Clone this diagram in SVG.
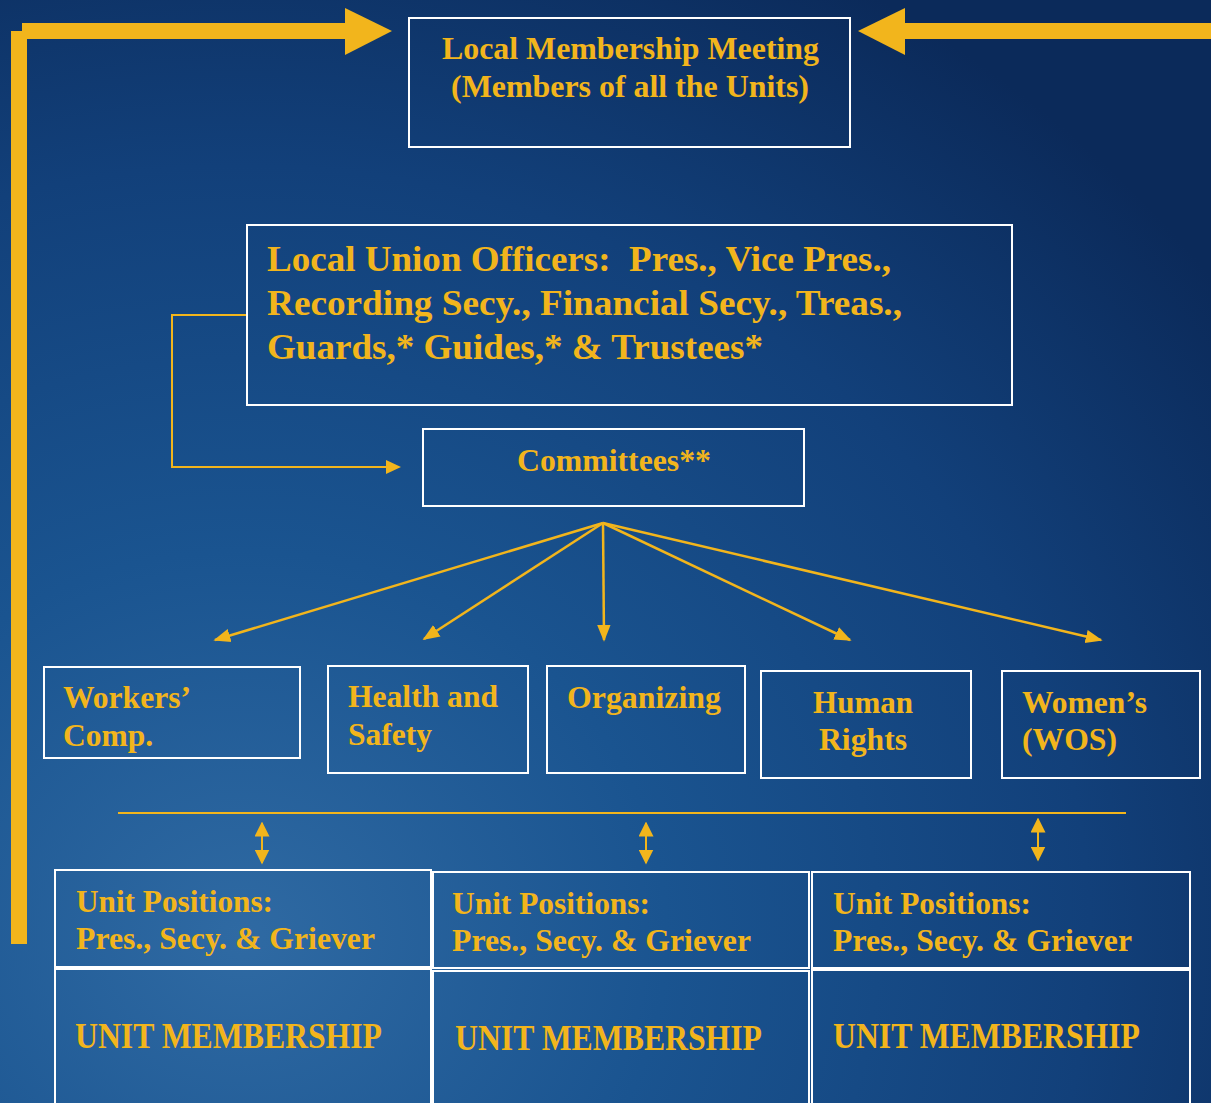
<svg xmlns="http://www.w3.org/2000/svg" width="1211" height="1103" viewBox="0 0 1211 1103">
<defs>
<radialGradient id="bg" cx="0.2" cy="0.85" r="1.0">
<stop offset="0" stop-color="#2f6aa3"/>
<stop offset="0.35" stop-color="#1a5490"/>
<stop offset="0.7" stop-color="#12407a"/>
<stop offset="1" stop-color="#0b2a5a"/>
</radialGradient>
<marker id="ahf" viewBox="0 0 10 10" refX="9" refY="5" markerWidth="17" markerHeight="17" orient="auto" markerUnits="userSpaceOnUse">
<path d="M0,1 L10,5 L0,9 z" fill="#f2b51c"/>
</marker>
<marker id="ahd" viewBox="0 0 10 10" refX="9" refY="5" markerWidth="15" markerHeight="15" orient="auto-start-reverse" markerUnits="userSpaceOnUse">
<path d="M0,0 L10,5 L0,10 z" fill="#f2b51c"/>
</marker>
</defs>
<style>
.box{fill:none;stroke:#ffffff;stroke-width:2}
.t{font-family:"Liberation Serif","Times New Roman",serif;font-weight:bold;fill:#f2b51c}
.ln{stroke:#f2b51c;fill:none}
</style>
<rect x="0" y="0" width="1211" height="1103" fill="url(#bg)"/>

<g id="connectors">
<rect x="11" y="31" width="16" height="913" fill="#f2b51c"/>
<rect x="22" y="23" width="324" height="16" fill="#f2b51c"/>
<polygon points="345,8 392,31 345,55" fill="#f2b51c"/>
<rect x="904" y="23" width="307" height="16" fill="#f2b51c"/>
<polygon points="905,8 858,31 905,55" fill="#f2b51c"/>
<polyline class="ln" stroke-width="2" points="247,315 172,315 172,467 386,467"/>
<polygon points="386,460 401,467 386,474" fill="#f2b51c"/>
<g stroke-width="2.5">
<line class="ln" x1="603" y1="523" x2="215" y2="640" marker-end="url(#ahf)"/>
<line class="ln" x1="603" y1="523" x2="424" y2="639" marker-end="url(#ahf)"/>
<line class="ln" x1="603" y1="523" x2="604" y2="640" marker-end="url(#ahf)"/>
<line class="ln" x1="603" y1="523" x2="850" y2="640" marker-end="url(#ahf)"/>
<line class="ln" x1="603" y1="523" x2="1101" y2="640" marker-end="url(#ahf)"/>
</g>
<line class="ln" stroke-width="2" x1="118" y1="813" x2="1126" y2="813"/>
<g stroke-width="2">
<line class="ln" x1="262" y1="823" x2="262" y2="863" marker-start="url(#ahd)" marker-end="url(#ahd)"/>
<line class="ln" x1="646" y1="823" x2="646" y2="863" marker-start="url(#ahd)" marker-end="url(#ahd)"/>
<line class="ln" x1="1038" y1="819" x2="1038" y2="860" marker-start="url(#ahd)" marker-end="url(#ahd)"/>
</g>
</g>

<g id="local-membership-meeting">
<rect class="box" x="409" y="18" width="441" height="129"/>
<text class="t" x="442" y="59" font-size="31" textLength="377" lengthAdjust="spacingAndGlyphs">Local Membership Meeting</text>
<text class="t" x="451" y="97" font-size="31" textLength="358" lengthAdjust="spacingAndGlyphs">(Members of all the Units)</text>
</g>

<g id="local-union-officers">
<rect class="box" x="247" y="225" width="765" height="180"/>
<text class="t" x="267" y="271" font-size="36" textLength="624" lengthAdjust="spacingAndGlyphs" xml:space="preserve">Local Union Officers:  Pres., Vice Pres.,</text>
<text class="t" x="267" y="315" font-size="36" textLength="635" lengthAdjust="spacingAndGlyphs">Recording Secy., Financial Secy., Treas.,</text>
<text class="t" x="267" y="359" font-size="36" textLength="496" lengthAdjust="spacingAndGlyphs">Guards,* Guides,* &amp; Trustees*</text>
</g>

<g id="committees">
<rect class="box" x="423" y="429" width="381" height="77"/>
<text class="t" x="517" y="471" font-size="31" textLength="194" lengthAdjust="spacingAndGlyphs">Committees**</text>
</g>

<g id="workers-comp">
<rect class="box" x="44" y="667" width="256" height="91"/>
<text class="t" x="63" y="708" font-size="32" textLength="128" lengthAdjust="spacingAndGlyphs">Workers’</text>
<text class="t" x="63" y="746" font-size="32" textLength="90" lengthAdjust="spacingAndGlyphs">Comp.</text>
</g>

<g id="health-and-safety">
<rect class="box" x="328" y="666" width="200" height="107"/>
<text class="t" x="348" y="707" font-size="32" textLength="150" lengthAdjust="spacingAndGlyphs">Health and</text>
<text class="t" x="348" y="745" font-size="32" textLength="84" lengthAdjust="spacingAndGlyphs">Safety</text>
</g>

<g id="organizing">
<rect class="box" x="547" y="666" width="198" height="107"/>
<text class="t" x="567" y="708" font-size="32" textLength="154" lengthAdjust="spacingAndGlyphs">Organizing</text>
</g>

<g id="human-rights">
<rect class="box" x="761" y="671" width="210" height="107"/>
<text class="t" x="813" y="713" font-size="32" textLength="100" lengthAdjust="spacingAndGlyphs">Human</text>
<text class="t" x="819" y="750" font-size="32" textLength="88" lengthAdjust="spacingAndGlyphs">Rights</text>
</g>

<g id="womens">
<rect class="box" x="1002" y="671" width="198" height="107"/>
<text class="t" x="1022" y="713" font-size="32" textLength="125" lengthAdjust="spacingAndGlyphs">Women’s</text>
<text class="t" x="1022" y="750" font-size="32" textLength="95" lengthAdjust="spacingAndGlyphs">(WOS)</text>
</g>

<g id="unit-positions-1">
<rect class="box" x="55" y="870" width="376" height="97"/>
<text class="t" x="76" y="912" font-size="32" textLength="197" lengthAdjust="spacingAndGlyphs">Unit Positions:</text>
<text class="t" x="76" y="949" font-size="32" textLength="299" lengthAdjust="spacingAndGlyphs">Pres., Secy. &amp; Griever</text>
</g>
<g id="unit-membership-1">
<rect class="box" x="55" y="969" width="376" height="140"/>
<text class="t" x="75" y="1048" font-size="35" textLength="307" lengthAdjust="spacingAndGlyphs">UNIT MEMBERSHIP</text>
</g>

<g id="unit-positions-2">
<rect class="box" x="433" y="872" width="376" height="96"/>
<text class="t" x="452" y="914" font-size="32" textLength="198" lengthAdjust="spacingAndGlyphs">Unit Positions:</text>
<text class="t" x="452" y="951" font-size="32" textLength="299" lengthAdjust="spacingAndGlyphs">Pres., Secy. &amp; Griever</text>
</g>
<g id="unit-membership-2">
<rect class="box" x="433" y="971" width="376" height="140"/>
<text class="t" x="455" y="1050" font-size="35" textLength="307" lengthAdjust="spacingAndGlyphs">UNIT MEMBERSHIP</text>
</g>

<g id="unit-positions-3">
<rect class="box" x="812" y="872" width="378" height="96"/>
<text class="t" x="833" y="914" font-size="32" textLength="198" lengthAdjust="spacingAndGlyphs">Unit Positions:</text>
<text class="t" x="833" y="951" font-size="32" textLength="299" lengthAdjust="spacingAndGlyphs">Pres., Secy. &amp; Griever</text>
</g>
<g id="unit-membership-3">
<rect class="box" x="812" y="970" width="378" height="140"/>
<text class="t" x="833" y="1048" font-size="35" textLength="307" lengthAdjust="spacingAndGlyphs">UNIT MEMBERSHIP</text>
</g>
</svg>
